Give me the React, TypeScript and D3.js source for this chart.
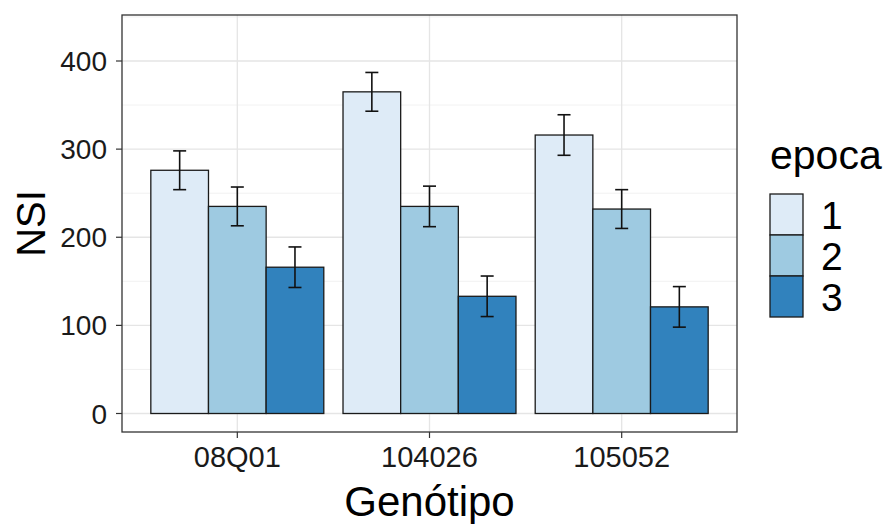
import React from "react";
import * as d3 from "d3";

const genotypes = ["08Q01", "104026", "105052"];
const epocas = ["1", "2", "3"];
const nsiEpoca1 = [276, 365, 316];
const nsiEpoca2 = [235, 235, 232];
const nsiEpoca3 = [166, 133, 121];
const errEpoca1 = [22, 22, 23];
const errEpoca2 = [22, 23, 22];
const errEpoca3 = [23, 23, 23];
const yTicks = [0, 100, 200, 300, 400];
const yMinor = [50, 150, 250, 350, 450];
const colors = ["#DEEBF7", "#9ECAE1", "#3182BD"];

const W = 889;
const H = 524;
const FONT = "'Liberation Sans', Arial, sans-serif";

export default function App() {
  const panel = { left: 122, right: 737, top: 15, bottom: 432 };
  const y = d3.scaleLinear().domain([0, 400]).range([413.5, 61]);
  const unit = (panel.right - panel.left) / 3.2;
  const x = d3
    .scalePoint()
    .domain(genotypes)
    .range([panel.left + 0.6 * unit, panel.right - 0.6 * unit]);
  const center = (i: number) => x(genotypes[i]) as number;
  const xs = d3.scaleBand().domain(epocas).range([-0.45 * unit, 0.45 * unit]);

  const values = [nsiEpoca1, nsiEpoca2, nsiEpoca3];
  const errs = [errEpoca1, errEpoca2, errEpoca3];
  const bars: any[] = [];
  genotypes.forEach((g, gi) => {
    epocas.forEach((e, ei) => {
      bars.push({ gi, ei, v: values[ei][gi], se: errs[ei][gi] });
    });
  });
  const capW = 13;

  return (
    <svg width={W} height={H} style={{ position: "absolute", left: 0, top: 0, background: "#fff" }} fontFamily={FONT}>
      <rect x={0} y={0} width={W} height={H} fill="#fff" />
      {yMinor.map((t) => (
        <line key={"mn" + t} x1={panel.left} x2={panel.right} y1={y(t)} y2={y(t)} stroke="#EDEDED" strokeWidth={0.8} />
      ))}
      {yTicks.map((t) => (
        <line key={"mj" + t} x1={panel.left} x2={panel.right} y1={y(t)} y2={y(t)} stroke="#E5E5E5" strokeWidth={1.3} />
      ))}
      {genotypes.map((g, i) => (
        <line key={"vx" + g} x1={center(i)} x2={center(i)} y1={panel.top} y2={panel.bottom} stroke="#E5E5E5" strokeWidth={1.3} />
      ))}
      {bars.map((b) => {
        const bx = center(b.gi) + (xs(epocas[b.ei]) as number);
        return (
          <rect
            key={"b" + b.gi + b.ei}
            x={bx}
            y={y(b.v)}
            width={xs.bandwidth()}
            height={y(0) - y(b.v)}
            fill={colors[b.ei]}
            stroke="#1a1a1a"
            strokeWidth={1.3}
          />
        );
      })}
      {bars.map((b) => {
        const cx = center(b.gi) + (xs(epocas[b.ei]) as number) + xs.bandwidth() / 2;
        return (
          <g key={"e" + b.gi + b.ei} stroke="#111" strokeWidth={1.6}>
            <line x1={cx} x2={cx} y1={y(b.v + b.se)} y2={y(b.v - b.se)} />
            <line x1={cx - capW / 2} x2={cx + capW / 2} y1={y(b.v + b.se)} y2={y(b.v + b.se)} />
            <line x1={cx - capW / 2} x2={cx + capW / 2} y1={y(b.v - b.se)} y2={y(b.v - b.se)} />
          </g>
        );
      })}
      <rect x={panel.left} y={panel.top} width={panel.right - panel.left} height={panel.bottom - panel.top} fill="none" stroke="#333" strokeWidth={1.3} />
      {yTicks.map((t) => (
        <g key={"yt" + t}>
          <line x1={panel.left - 6} x2={panel.left} y1={y(t)} y2={y(t)} stroke="#333" strokeWidth={1.2} />
          <text x={panel.left - 15} y={y(t)} dy="0.36em" textAnchor="end" fontSize={28} fill="#1a1a1a">
            {t}
          </text>
        </g>
      ))}
      {genotypes.map((g, i) => (
        <g key={"xt" + g}>
          <line x1={center(i)} x2={center(i)} y1={panel.bottom} y2={panel.bottom + 6} stroke="#333" strokeWidth={1.2} />
          <text x={center(i)} y={467} textAnchor="middle" fontSize={29} fill="#1a1a1a">
            {g}
          </text>
        </g>
      ))}
      <text x={panel.left + (panel.right - panel.left) / 2} y={516} textAnchor="middle" fontSize={42} fill="#000">
        Genótipo
      </text>
      <text
        transform={`translate(45, ${(panel.top + panel.bottom) / 2}) rotate(-90)`}
        textAnchor="middle"
        fontSize={40}
        fill="#000"
      >
        NSI
      </text>
      <text x={770} y={169} fontSize={41} fill="#000">
        epoca
      </text>
      {epocas.map((e, i) => (
        <g key={"lg" + e}>
          <rect x={770} y={194 + i * 41} width={33} height={41} fill={colors[i]} stroke="#1a1a1a" strokeWidth={1.3} />
          <text x={821} y={194 + i * 41 + 20.5} dy="0.36em" fontSize={39} fill="#000">
            {e}
          </text>
        </g>
      ))}
    </svg>
  );
}
